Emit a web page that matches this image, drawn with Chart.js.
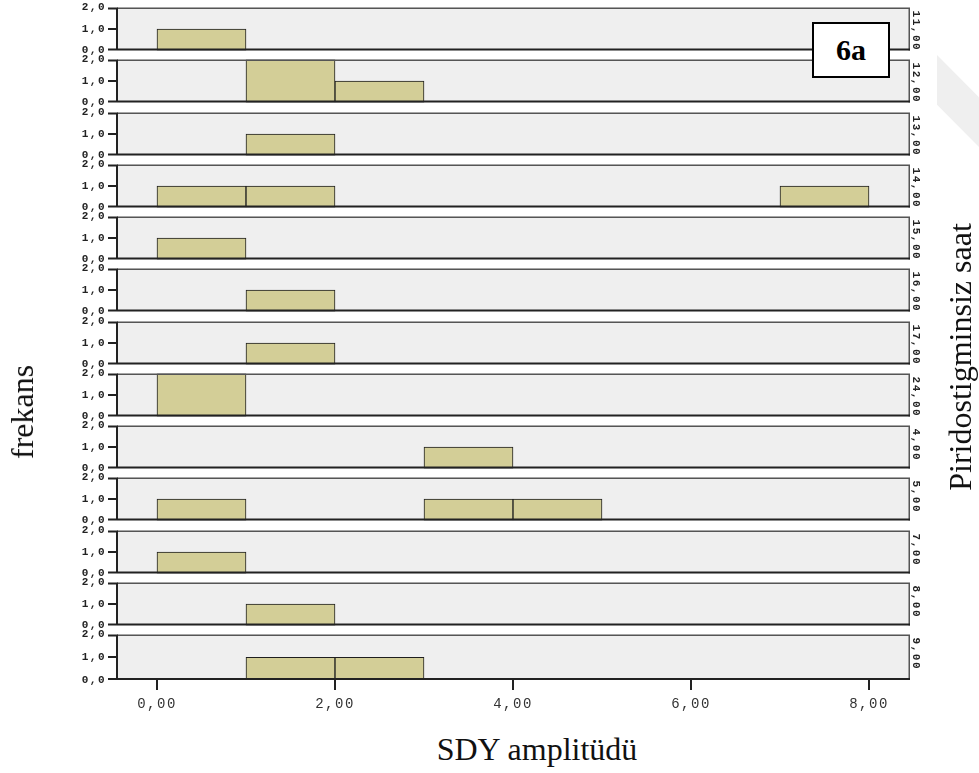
<!DOCTYPE html>
<html>
<head>
<meta charset="utf-8">
<script src="https://cdn.jsdelivr.net/npm/chart.js@4.4.1/dist/chart.umd.min.js"></script>
<style>
  html, body { margin: 0; padding: 0; background: #fff; }
  #wrap { position: relative; width: 979px; height: 773px; overflow: hidden; }
  #wrap canvas { position: absolute; left: 0; }
  .title { position: absolute; font-family: "Liberation Serif", "Times New Roman", serif; font-size: 32px; line-height: 32px; color: #111; white-space: nowrap; }
  #xtitle { left: 537px; top: 733px; transform: translateX(-50%); }
  #ytitle { left: 22px; top: 412px; transform: translate(-50%, -50%) rotate(-90deg); }
  #rtitle { left: 960px; top: 357px; transform: translate(-50%, -50%) rotate(-90deg); }
  #tag { position: absolute; left: 812px; top: 22px; width: 74px; height: 52px; border: 2px solid #000; background: #fff;
         font-family: "Liberation Serif", serif; font-weight: bold; font-size: 30px; line-height: 52px; text-align: center; z-index: 5; }
  #mark { position: absolute; left: 937px; top: 55px; width: 42px; height: 92px; background: #efefef;
          clip-path: polygon(0 0, 100% 46%, 100% 100%, 0 54%); }
</style>
</head>
<body>
<div id="wrap">
  <div id="mark"></div>
  <div class="title" id="xtitle">SDY amplitüdü</div>
  <div class="title" id="ytitle">frekans</div>
  <div class="title" id="rtitle">Piridostigminsiz saat</div>
  <div id="tag">6a</div>
</div>
<script>
// bins are one unit wide, centred on these values
const binCenters = [0.5, 1.5, 2.5, 3.5, 4.5, 5.5, 6.5, 7.5];

// panel labels (hour groups), top to bottom
const hours = ['11,00', '12,00', '13,00', '14,00', '15,00', '16,00', '17,00', '24,00', '4,00', '5,00', '7,00', '8,00', '9,00'];

// frequency per bin for each hour group
const freq11 = [1, 0, 0, 0, 0, 0, 0, 0];
const freq12 = [0, 2, 1, 0, 0, 0, 0, 0];
const freq13 = [0, 1, 0, 0, 0, 0, 0, 0];
const freq14 = [1, 1, 0, 0, 0, 0, 0, 1];
const freq15 = [1, 0, 0, 0, 0, 0, 0, 0];
const freq16 = [0, 1, 0, 0, 0, 0, 0, 0];
const freq17 = [0, 1, 0, 0, 0, 0, 0, 0];
const freq24 = [2, 0, 0, 0, 0, 0, 0, 0];
const freq4 = [0, 0, 0, 1, 0, 0, 0, 0];
const freq5 = [1, 0, 0, 1, 1, 0, 0, 0];
const freq7 = [1, 0, 0, 0, 0, 0, 0, 0];
const freq8 = [0, 1, 0, 0, 0, 0, 0, 0];
const freq9 = [0, 1, 1, 0, 0, 0, 0, 0];
const panelFreqs = [freq11, freq12, freq13, freq14, freq15, freq16, freq17, freq24, freq4, freq5, freq7, freq8, freq9];

const yTickLabels = ['0,0', '1,0', '2,0'];
const xTickLabels = ['0,00', '2,00', '4,00', '6,00', '8,00'];

// panel geometry (x range picked so bin edges fall on whole pixels)
const W = 979;
const AREA_LEFT = 117;
const AREA_RIGHT = 910;
const X_MIN = -0.4494;
const X_MAX = 8.4607;
const FIRST_TOP = 5;
const STEP = 52.25;
const PANEL_H = 48;
const PAD = 6;
const X_AXIS_H = 39;
const Y_TICK = 9;

const MONO = '"Liberation Mono", "DejaVu Sans Mono", monospace';

// grey plot background, frame, y tick marks and hour label at the right
const panelPlugin = {
    id: 'panelFrame',
    beforeDraw(chart) {
        const { ctx, chartArea: a } = chart;
        ctx.letterSpacing = '1.5px';
        ctx.save();
        ctx.fillStyle = '#efefef';
        ctx.fillRect(a.left, a.top, a.right - a.left, a.bottom - a.top);
        ctx.restore();
    },
    afterDatasetsDraw(chart) {
        const { ctx, chartArea: a } = chart;
        const ys = chart.scales.y;
        ctx.save();
        ctx.strokeStyle = '#555';
        ctx.lineWidth = 1.5;
        ctx.beginPath();
        ctx.moveTo(a.left, a.top + 0.75);
        ctx.lineTo(a.right - 0.75, a.top + 0.75);
        ctx.lineTo(a.right - 0.75, a.bottom);
        ctx.stroke();

        ctx.strokeStyle = '#222';
        ctx.lineWidth = 2;
        ctx.beginPath();
        ctx.moveTo(a.left, a.bottom - 1);
        ctx.lineTo(a.right, a.bottom - 1);
        ctx.moveTo(a.left, a.top);
        ctx.lineTo(a.left, a.bottom);
        // tick marks left of the axis
        ys.ticks.forEach(t => {
            let py = Math.round(ys.getPixelForValue(t.value));
            py = Math.min(Math.max(py, a.top + 1), a.bottom - 1);
            ctx.moveTo(a.left - Y_TICK, py);
            ctx.lineTo(a.left, py);
        });
        ctx.stroke();
        ctx.restore();
    },
    afterDraw(chart) {
        const { ctx, chartArea: a } = chart;
        ctx.save();
        ctx.translate(a.right + 3, a.top + 3);
        ctx.rotate(Math.PI / 2);
        ctx.font = 'bold 11px ' + MONO;
        ctx.fillStyle = '#222';
        ctx.textBaseline = 'alphabetic';
        ctx.textAlign = 'left';
        ctx.fillText(hours[chart.options.plugins.panelFrame.index], 0, 0);
        ctx.restore();
    }
};

const wrap = document.getElementById('wrap');

panelFreqs.forEach((freq, i) => {
    const isLast = i === panelFreqs.length - 1;
    const top = Math.round(FIRST_TOP + STEP * i);
    const canvas = document.createElement('canvas');
    canvas.width = W;
    canvas.height = PAD + PANEL_H + (isLast ? X_AXIS_H : PAD);
    canvas.style.top = (top - PAD) + 'px';
    wrap.insertBefore(canvas, wrap.firstChild);

    new Chart(canvas, {
        type: 'bar',
        data: {
            datasets: [{
                data: binCenters.map((x, k) => ({ x: x, y: freq[k] })),
                backgroundColor: '#d3ce97',
                borderColor: '#1e1e1e',
                borderWidth: 1,
                borderSkipped: false,
                barPercentage: 1,
                categoryPercentage: 1
            }]
        },
        options: {
            responsive: false,
            animation: false,
            events: [],
            layout: { padding: { left: 0, right: W - AREA_RIGHT, top: PAD, bottom: isLast ? 0 : PAD } },
            plugins: {
                legend: { display: false },
                tooltip: { enabled: false },
                panelFrame: { index: i }
            },
            scales: {
                x: {
                    type: 'linear',
                    min: X_MIN,
                    max: X_MAX,
                    offset: false,
                    display: isLast,
                    border: { display: false },
                    grid: { offset: false, drawOnChartArea: false, drawTicks: true, tickLength: 10, lineWidth: 2, color: '#222' },
                    ticks: {
                        stepSize: 2,
                        includeBounds: false,
                        maxRotation: 0,
                        padding: 6,
                        color: '#333',
                        font: { family: MONO, size: 14 },
                        callback: v => xTickLabels[Math.round(v / 2)]
                    },
                    afterFit: s => { s.height = isLast ? X_AXIS_H : 0; }
                },
                y: {
                    min: 0,
                    max: 2,
                    border: { display: false },
                    grid: { display: false, drawTicks: true, tickLength: Y_TICK },
                    ticks: {
                        stepSize: 1,
                        padding: 2,
                        color: '#222',
                        font: { family: MONO, size: 11, weight: 'bold' },
                        callback: v => yTickLabels[v]
                    },
                    afterFit: s => { s.width = AREA_LEFT; }
                }
            }
        },
        plugins: [panelPlugin]
    });
});
</script>
</body>
</html>
